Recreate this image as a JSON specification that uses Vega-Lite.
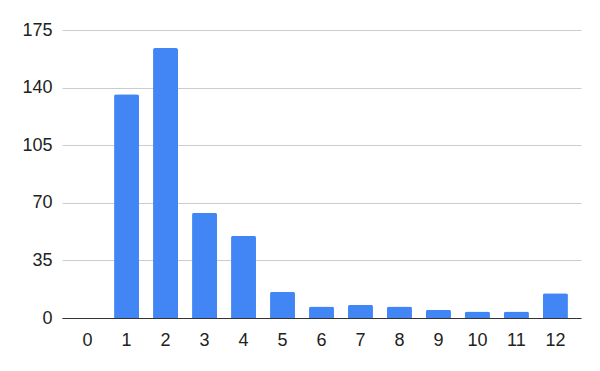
{
  "$schema": "https://vega.github.io/schema/vega-lite/v6.json",
  "width": 519,
  "height": 288,
  "autosize": {"type": "none"},
  "padding": {"left": 62, "top": 30, "right": 19, "bottom": 53},
  "background": "white",
  "data": {
    "values": [
      {"k": "0", "v": 0},
      {"k": "1", "v": 136},
      {"k": "2", "v": 164},
      {"k": "3", "v": 64},
      {"k": "4", "v": 50},
      {"k": "5", "v": 16},
      {"k": "6", "v": 7},
      {"k": "7", "v": 8},
      {"k": "8", "v": 7},
      {"k": "9", "v": 5},
      {"k": "10", "v": 4},
      {"k": "11", "v": 4},
      {"k": "12", "v": 15}
    ]
  },
  "config": {
    "view": {"stroke": null},
    "font": "Liberation Sans"
  },
  "mark": {"type": "bar", "color": "#4285F4", "cornerRadiusTopLeft": 2, "cornerRadiusTopRight": 2},
  "encoding": {
    "x": {
      "field": "k",
      "type": "ordinal",
      "sort": null,
      "scale": {"paddingInner": 0.36, "paddingOuter": 0.335},
      "axis": {
        "title": null,
        "labelAngle": 0,
        "ticks": false,
        "domainColor": "#333333",
        "labelFont": "Liberation Sans",
        "labelFontSize": 18,
        "labelColor": "#222222",
        "labelPadding": 13
      }
    },
    "y": {
      "field": "v",
      "type": "quantitative",
      "scale": {"domain": [0, 175]},
      "axis": {
        "title": null,
        "values": [0, 35, 70, 105, 140, 175],
        "ticks": false,
        "domain": false,
        "gridColor": "#cccccc",
        "labelFont": "Liberation Sans",
        "labelFontSize": 18,
        "labelColor": "#222222",
        "labelPadding": 10
      }
    }
  }
}
